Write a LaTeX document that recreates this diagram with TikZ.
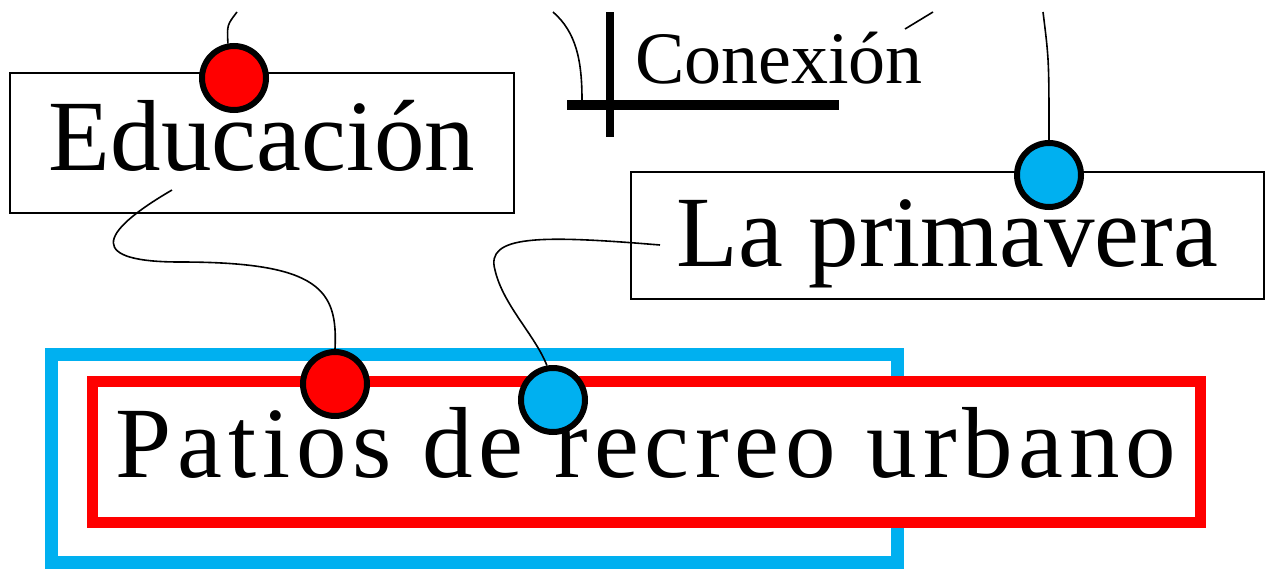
\documentclass[tikz,border=0pt]{standalone}
\usepackage{fontspec}
\setmainfont{Liberation Serif}
\definecolor{dotred}{RGB}{255,0,0}
\definecolor{dotblue}{RGB}{0,176,240}

\begin{document}
\begin{tikzpicture}[x=1pt, y=-1pt,
  box/.style={draw, line width=1.2pt, inner sep=0pt, text height=67pt,
    font=\fontsize{101}{110}\selectfont},
  dot/.style={circle, draw, line width=6pt, minimum size=64pt, inner sep=0pt},
  link/.style={line width=1.6pt}]
  \useasboundingbox (0,0) rectangle (1269,568);

  % main topic
  \node[draw=dotblue, line width=13pt, fill=white, minimum width=846pt, minimum height=208pt] (frame) at (474,458) {};
  \node[box, draw=dotred, line width=11pt, fill=white, minimum width=1108pt, minimum height=141pt, text depth=16pt] (patios) at (646,451.5) {\addfontfeature{LetterSpace=5.7}Patios de recreo urbano};

  % topics
  \node[box, minimum width=504pt, minimum height=140pt, text depth=13pt] (edu) at (262,143) {Educación};
  \node[box, minimum width=633pt, minimum height=127pt, text depth=5pt] (prim) at (947.5,235.5) {La primavera};
  \node[anchor=base west, inner sep=0pt, font=\fontsize{74}{82}\selectfont] (conn) at (635,83) {Conexión};

  % bars
  \draw[line width=10pt] (567,105) -- (839,105);
  \draw[line width=8pt] (610,12) -- (610,137);

  \coordinate (eduTop) at (237,12);
  \coordinate (eduOut) at (172,190);
  \coordinate (primOut) at (660,245);
  \coordinate (primTop) at (1043,12);
  \coordinate (connTop) at (553,12);
  \coordinate (connIn) at (582,100);
  \coordinate (connEnd) at (905,29);
  \coordinate (connTip) at (933,12);

  % dots
  \node[dot, fill=dotred] (eduDot) at (234,78) {};
  \node[dot, fill=dotred] (patRed) at (335,384) {};
  \node[dot, fill=dotblue] (patBlue) at (553,400) {};
  \node[dot, fill=dotblue] (primDot) at (1049,175) {};

  \draw[link] (eduDot.100) .. controls (227,25) .. (eduTop);
  \draw[link] (eduOut) .. controls (95,235) and (90,262) .. (180,262)
    .. controls (320,262) and (338,290) .. (patRed.north);
  \draw[link] (primOut) .. controls (540,235) and (485,235) .. (495,270)
    .. controls (503,305) and (535,335) .. (patBlue.100);
  \draw[link] (primDot.north) .. controls (1049,60) .. (primTop);
  \draw[link] (connTop) .. controls (576,32) and (582,60) .. (connIn);
  \draw[link] (connEnd) -- (connTip);
\end{tikzpicture}
\end{document}
